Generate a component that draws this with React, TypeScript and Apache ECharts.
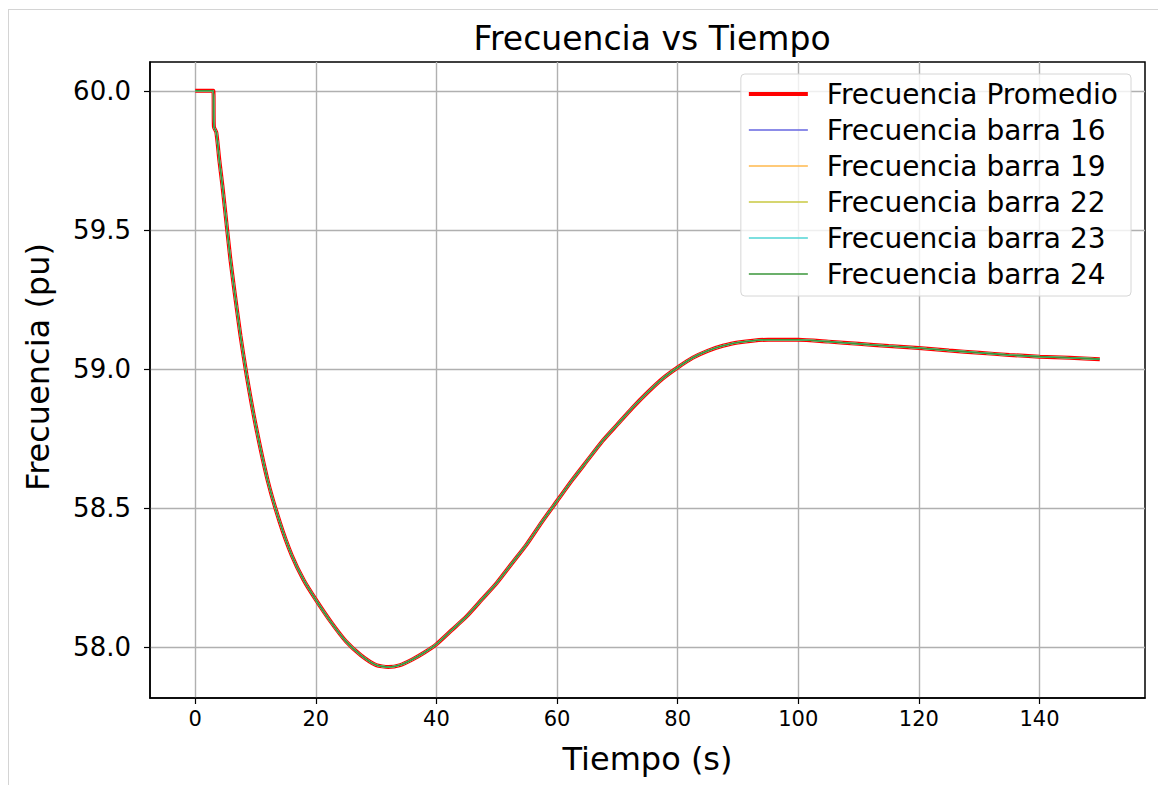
import React, { useEffect, useRef } from "react";
import * as echarts from "echarts";

// Simulated frequency response (s, Hz)
const tiempo = [
  0, 3.0, 3.1, 3.5, 4.0, 4.5, 5.0, 5.8, 6.5, 7.5, 8.5, 10, 12, 14, 16, 18, 20,
  22.5, 25, 27.5, 30, 32, 34, 36, 38, 40, 42.5, 45, 47.5, 50, 52.5, 55, 57.5,
  60, 62.5, 65, 67.5, 70, 72.5, 75, 77.5, 80, 82.5, 85, 87.5, 90, 95, 100, 105,
  110, 115, 120, 125, 130, 135, 140, 145, 150,
];
const frecuencia = [
  60.0, 60.0, 59.87, 59.85, 59.75, 59.66, 59.56, 59.4, 59.28, 59.12, 58.98,
  58.8, 58.6, 58.45, 58.33, 58.24, 58.17, 58.09, 58.02, 57.97, 57.935, 57.928,
  57.935, 57.955, 57.98, 58.01, 58.06, 58.11, 58.17, 58.23, 58.3, 58.37, 58.45,
  58.525, 58.6, 58.67, 58.74, 58.8, 58.86, 58.915, 58.965, 59.005, 59.04, 59.065,
  59.083, 59.095, 59.105, 59.105, 59.098, 59.09, 59.082, 59.075, 59.066, 59.058,
  59.05, 59.044, 59.04, 59.035,
];

const xTicks = [0, 20, 40, 60, 80, 100, 120, 140];
const yTicks = [58.0, 58.5, 59.0, 59.5, 60.0];

const serieProm = "Frecuencia Promedio";
const barras = ["16", "19", "22", "23", "24"];
const coloresBarras = ["#6666e0", "#ffb84d", "#c8c840", "#50d4d4", "#3a963a"];

const FONT = "DejaVu Sans";

// thin horizontal bar used as legend swatch (aspect ratio kept)
const swatch = (h: number) => `path://M0 0H60V${h}H0Z`;

export default function App() {
  const ref = useRef<HTMLDivElement>(null);

  useEffect(() => {
    const chart = echarts.init(ref.current!, null, { renderer: "svg" });
    const puntos = tiempo.map((t, i) => [t, frecuencia[i]]);

    const series: any[] = [
      {
        name: serieProm,
        type: "line",
        data: puntos,
        symbol: "none",
        smooth: 0.2,
        lineStyle: { color: "#ff0000", width: 4 },
        itemStyle: { color: "#ff0000" },
        z: 2,
      },
      ...barras.map((b, i) => ({
        name: `Frecuencia barra ${b}`,
        type: "line",
        data: puntos,
        symbol: "none",
        smooth: 0.2,
        lineStyle: { color: coloresBarras[i], width: 1.6 },
        itemStyle: { color: coloresBarras[i] },
        z: 3 + i,
      })),
    ];

    chart.setOption({
      animation: false,
      backgroundColor: "#ffffff",
      title: {
        text: "Frecuencia vs Tiempo",
        left: 647,
        top: 17,
        textAlign: "center",
        textStyle: { fontFamily: FONT, fontSize: 33, fontWeight: "normal", color: "#000" },
      },
      grid: {
        left: 150,
        right: 13,
        top: 62,
        bottom: 87,
        show: true,
        borderColor: "#000",
        borderWidth: 1.5,
        containLabel: false,
      },
      legend: {
        orient: "vertical",
        right: 27,
        top: 74,
        padding: [6, 13, 8, 8],
        itemWidth: 59,
        itemHeight: 14,
        itemGap: 8,
        symbolKeepAspect: true,
        backgroundColor: "rgba(255,255,255,0.8)",
        borderColor: "#d6d6d6",
        borderWidth: 1,
        borderRadius: 4,
        textStyle: {
          fontFamily: FONT,
          fontSize: 28,
          lineHeight: 26,
          color: "#000",
          padding: [0, 0, 0, 14],
        },
        data: [
          { name: serieProm, icon: swatch(4.2), itemStyle: { color: "#ff0000" } },
          ...barras.map((b, i) => ({
            name: `Frecuencia barra ${b}`,
            icon: swatch(1.6),
            itemStyle: { color: coloresBarras[i] },
          })),
        ],
      },
      xAxis: {
        type: "value",
        min: -7.5,
        max: 157.5,
        name: "Tiempo (s)",
        nameLocation: "middle",
        nameGap: 45,
        nameTextStyle: { fontFamily: FONT, fontSize: 32, color: "#000" },
        axisLine: { show: true, onZero: false, lineStyle: { color: "#000", width: 1.5 } },
        axisTick: {
          show: true,
          inside: false,
          length: 6,
          lineStyle: { color: "#000", width: 1.2 },
          customValues: xTicks,
        },
        axisLabel: {
          customValues: xTicks,
          margin: 10,
          fontFamily: FONT,
          fontSize: 21,
          color: "#000",
          formatter: (v: number) => `${v}`,
        },
        splitLine: { show: true, lineStyle: { color: "#b0b0b0", width: 1.4 } },
      },
      yAxis: {
        type: "value",
        min: 57.8165,
        max: 60.1035,
        name: "Frecuencia (pu)",
        nameLocation: "middle",
        nameGap: 96,
        nameTextStyle: {
          fontFamily: FONT,
          fontSize: 32,
          color: "#000",
          padding: [0, 0, 0, 26],
        },
        axisLine: { show: true, onZero: false, lineStyle: { color: "#000", width: 1.5 } },
        axisTick: {
          show: true,
          inside: false,
          length: 6,
          lineStyle: { color: "#000", width: 1.2 },
          customValues: yTicks,
        },
        axisLabel: {
          customValues: yTicks,
          margin: 19,
          fontFamily: FONT,
          fontSize: 26,
          color: "#000",
          formatter: (v: number) => v.toFixed(1),
        },
        splitLine: { show: true, lineStyle: { color: "#b0b0b0", width: 1.4 } },
      },
      graphic: [
        {
          type: "line",
          shape: { x1: 8, y1: 9.5, x2: 1158, y2: 9.5 },
          style: { stroke: "#d4d4d4", lineWidth: 1 },
          silent: true,
        },
        {
          type: "line",
          shape: { x1: 8.5, y1: 9, x2: 8.5, y2: 785 },
          style: { stroke: "#d4d4d4", lineWidth: 1 },
          silent: true,
        },
      ],
      series,
    });

    return () => chart.dispose();
  }, []);

  return (
    <div
      ref={ref}
      style={{ position: "fixed", left: 0, top: 0, width: 1158, height: 785, background: "#fff" }}
    />
  );
}
